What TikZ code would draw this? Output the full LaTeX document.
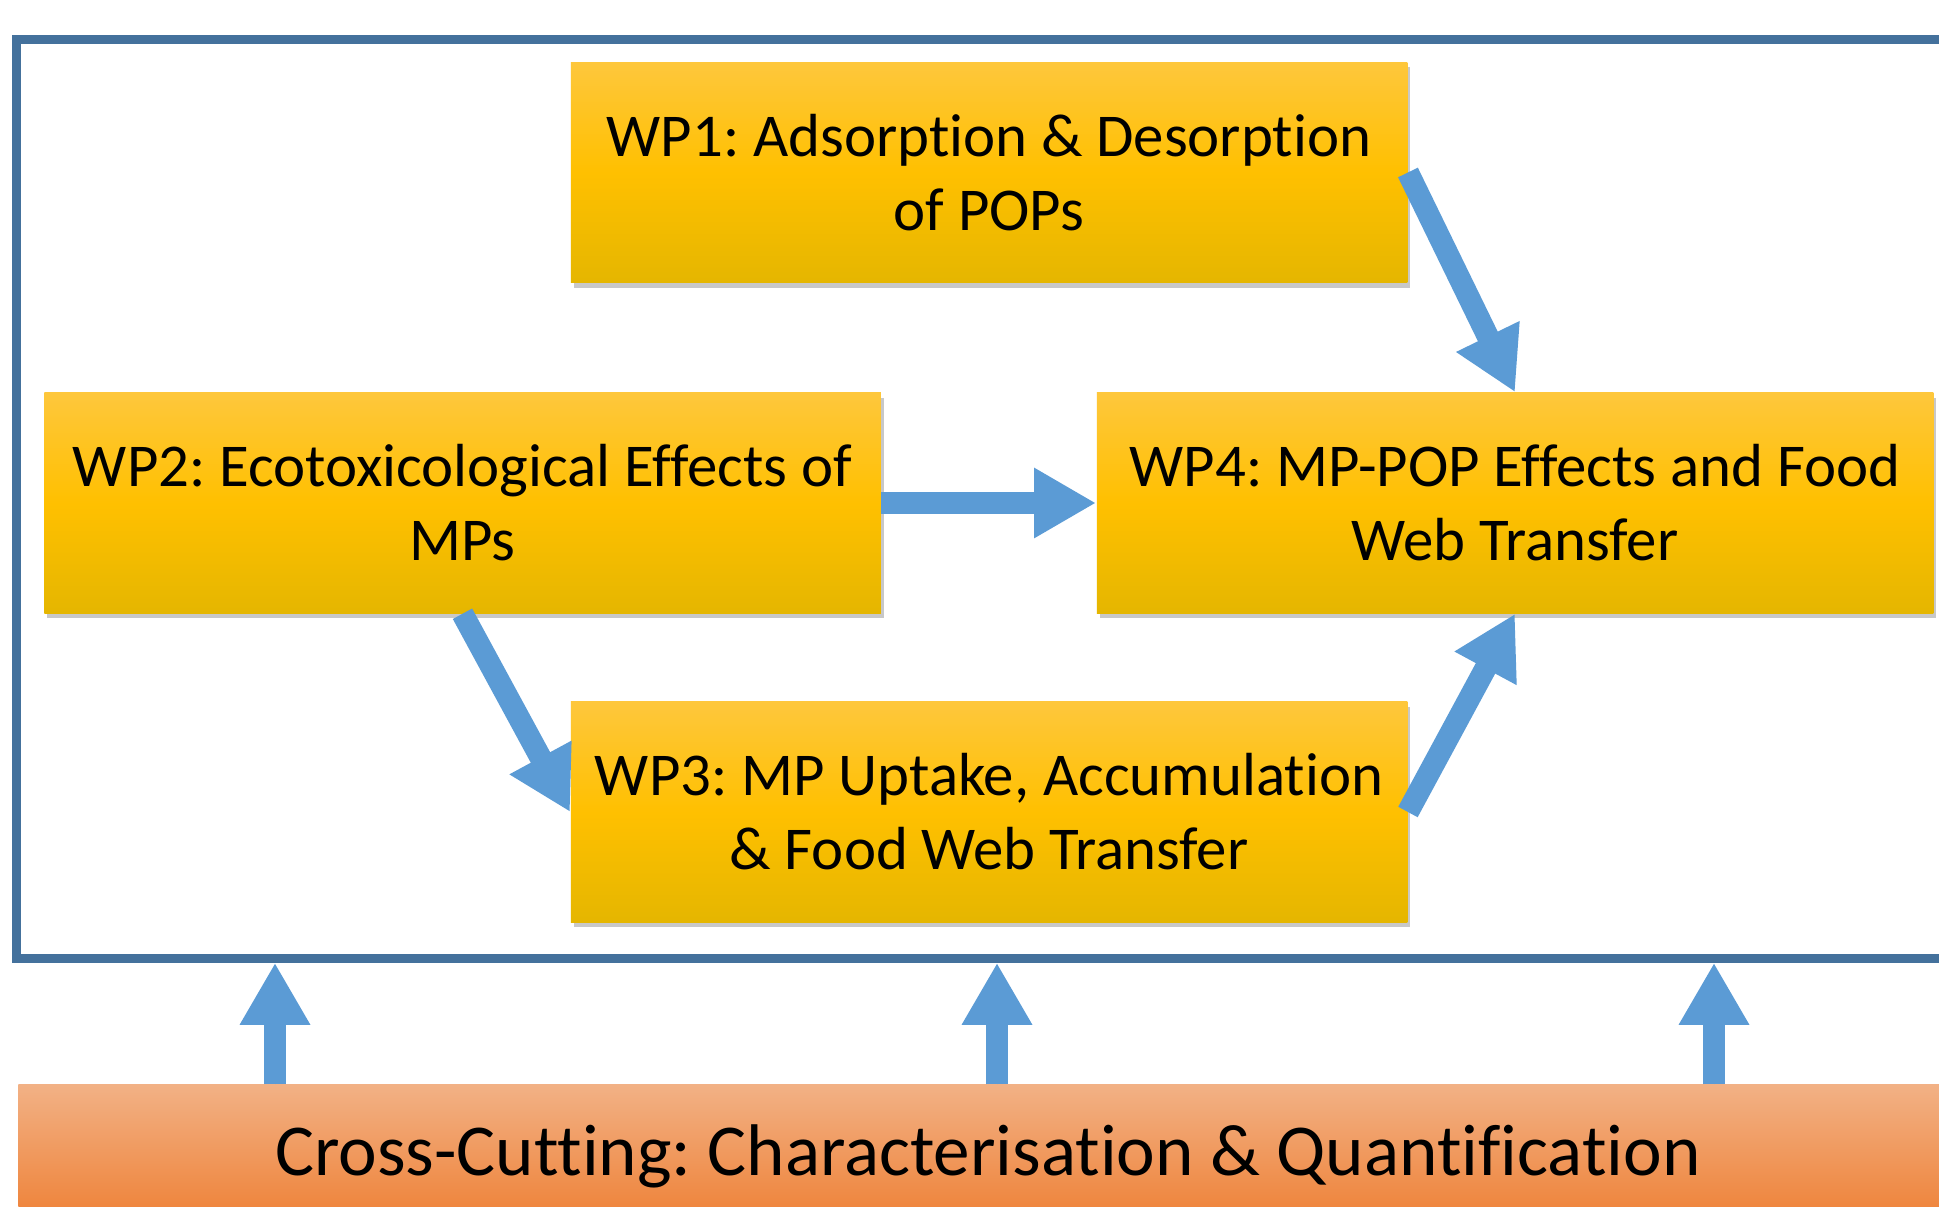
\documentclass[tikz,border=0pt]{standalone}
\usepackage{fontspec}
\setmainfont{Carlito}[Ligatures=NoCommon]
\usetikzlibrary{arrows.meta,shadows}

\definecolor{frameblue}{HTML}{44719C}
\definecolor{arrowblue}{HTML}{5B9BD5}
\definecolor{goldtop}{HTML}{FEC73C}
\definecolor{goldmid}{HTML}{FFC000}
\definecolor{goldbot}{HTML}{E5B600}
\definecolor{orangetop}{HTML}{F2B185}
\definecolor{orangebot}{HTML}{EE7F33}

\tikzset{
  wpbox/.style={rectangle, inner sep=0pt, align=center,
    minimum width=8.36cm, minimum height=2.2cm,
    top color=goldtop, bottom color=goldbot, middle color=goldmid,
    font=\fontsize{17.3}{21}\selectfont,
    drop shadow={shadow xshift=0.03cm, shadow yshift=-0.05cm, opacity=0.3, fill=black!70}},
  flow/.style={draw=arrowblue, fill=arrowblue, line width=0.22cm,
    -{Triangle[width=0.66cm,length=0.62cm]}},
}

\begin{document}
\frenchspacing
\begin{tikzpicture}[x=0.01cm, y=-0.01cm]
  % canvas
  \fill[white] (0,0) rectangle (1939,1207);
  \useasboundingbox (0,0) rectangle (1939,1207);
  \clip (0,0) rectangle (1939,1207);

  % outer frame around the work packages (runs past the right edge)
  \node[draw=frameblue, line width=0.09cm, fill=white, inner sep=0pt,
        minimum width=19.43cm, minimum height=9.18cm] (frame) at (988.5,499) {};

  % work packages
  \node[wpbox] (wp1) at (989,172.5) {WP1: Adsorption \& Desorption\\of POPs};
  \node[wpbox] (wp2) at (462.5,503) {WP2: Ecotoxicological Effects of\\MPs};
  \node[wpbox] (wp4) at (1515,503) {WP4: MP-POP Effects and Food\\Web Transfer};
  \node[wpbox] (wp3) at (989,812) {WP3: MP Uptake, Accumulation\\\& Food Web Transfer};

  % cross-cutting band
  \node[rectangle, inner sep=0pt, minimum width=19.38cm, minimum height=1.42cm,
        top color=orangetop, bottom color=orangebot,
        font=\fontsize{20.8}{24}\selectfont] (cross) at (988,1156)
        {Cross-Cutting: Characterisation \& Quantification};

  % flows between work packages
  \draw[flow] (wp1.east) -- (wp4.north);
  \draw[flow] (wp2.east) -- (wp4.west);
  \draw[flow] (wp2.south) -- (wp3.west);
  \draw[flow] (wp3.east) -- (wp4.south);

  % support from the cross-cutting band
  \coordinate (u1) at (275,0);
  \coordinate (u2) at (997,0);
  \coordinate (u3) at (1714,0);
  \foreach \u in {u1,u2,u3}
    \draw[flow] (cross.north -| \u) -- (frame.south -| \u);
\end{tikzpicture}
\end{document}
